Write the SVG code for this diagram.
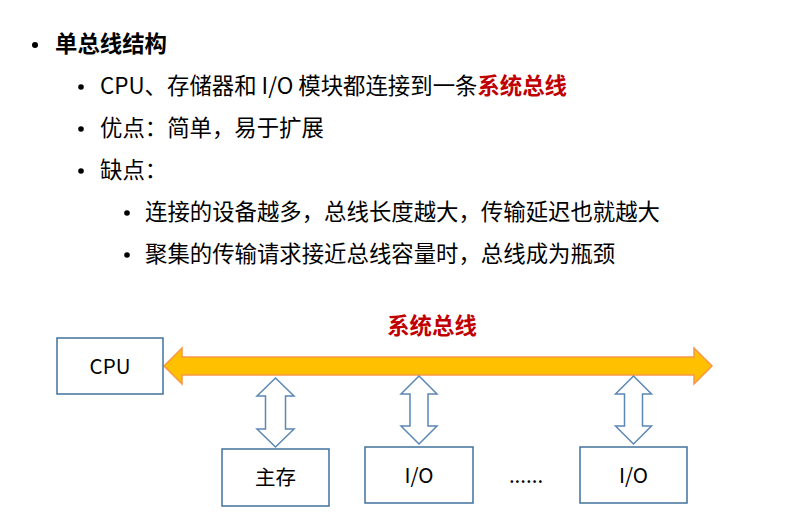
<svg xmlns="http://www.w3.org/2000/svg" width="800" height="515" viewBox="0 0 800 515">
<style>
.t{font-family:"Noto Sans CJK SC","Liberation Sans",sans-serif;font-size:22.4px;fill:#000}
.b{font-weight:bold}
.red{fill:#C00000;font-weight:bold}
.box{fill:#fff;stroke:#41719C;stroke-width:1.5}
.lbl{font-family:"Noto Sans CJK SC","Liberation Sans",sans-serif;font-size:20.5px;fill:#000;text-anchor:middle}
.va{fill:#fff;stroke:#5B87B5;stroke-width:1.5}
</style>
<rect width="800" height="515" fill="#fff"/>
<g id="text">
<circle cx="35" cy="45" r="3"/>
<text class="t b" x="55" y="52">单总线结构</text>
<circle cx="81" cy="87" r="2.8"/>
<text class="t" x="100" y="94">CPU、存储器和 I/O 模块都连接到一条<tspan class="red">系统总线</tspan></text>
<circle cx="81" cy="129" r="2.8"/>
<text class="t" x="100" y="136">优点：简单，易于扩展</text>
<circle cx="81" cy="171" r="2.8"/>
<text class="t" x="100" y="178">缺点：</text>
<circle cx="127" cy="213" r="2.8"/>
<text class="t" x="145" y="220">连接的设备越多，总线长度越大，传输延迟也就越大</text>
<circle cx="127" cy="255" r="2.8"/>
<text class="t" x="145" y="262">聚集的传输请求接近总线容量时，总线成为瓶颈</text>
</g>
<g id="connectors">
<polygon id="bus" points="164,366 182,348 182,357 694,357 694,348 712,366 694,384 694,375 182,375 182,384" fill="#FFC000" stroke="#F79646" stroke-width="1.5"/>
<text class="t red" x="432" y="334" text-anchor="middle" font-size="19.5">系统总线</text>
<polygon class="va" points="275.5,378 294,396 285.5,396 285.5,429 294,429 275.5,447 257,429 265.5,429 265.5,396 257,396"/>
<polygon class="va" points="419,376 437,394 428,394 428,426 437,426 419,444 401,426 410,426 410,394 401,394"/>
<polygon class="va" points="633.5,376 651.5,394 642.5,394 642.5,426 651.5,426 633.5,444 615.5,426 624.5,426 624.5,394 615.5,394"/>
</g>
<g id="cpu"><rect class="box" x="57" y="338" width="106" height="56"/><text class="lbl" x="110" y="374">CPU</text></g>
<g id="mem"><rect class="box" x="222" y="449" width="107" height="57"/><text class="lbl" x="275.5" y="485">主存</text></g>
<g id="io1"><rect class="box" x="365" y="447" width="108" height="56"/><text class="lbl" x="419" y="483">I/O</text></g>
<g id="dots"><text class="lbl" x="526" y="483">......</text></g>
<g id="io2"><rect class="box" x="580" y="447" width="107" height="56"/><text class="lbl" x="633.5" y="483">I/O</text></g>
</svg>
